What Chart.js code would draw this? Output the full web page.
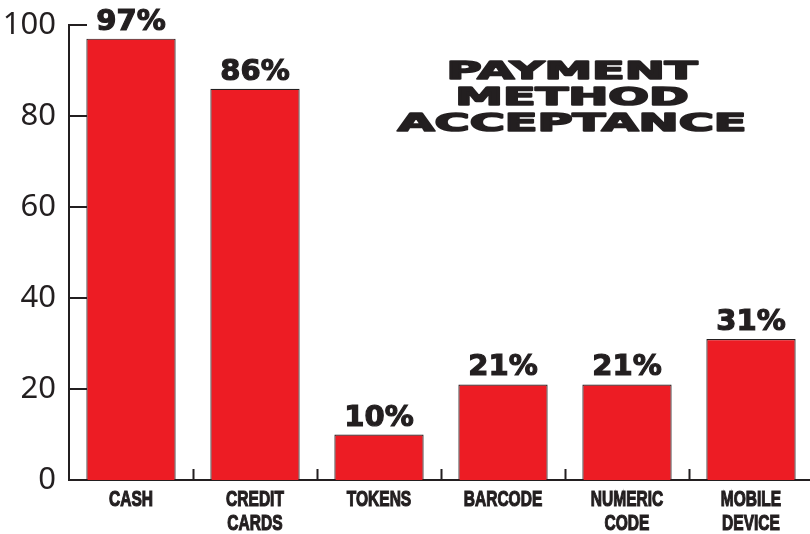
<!DOCTYPE html>
<html>
<head>
<meta charset="utf-8">
<script src="https://cdn.jsdelivr.net/npm/chart.js@4"></script>
<style>
  html, body { margin: 0; padding: 0; background: #fff; overflow: hidden; }
  #wrap { width: 813px; height: 534px; }
</style>
</head>
<body>
<div id="wrap"><canvas id="c" width="813" height="534"></canvas></div>
<script>
const categories = [['CASH'], ['CREDIT', 'CARDS'], ['TOKENS'], ['BARCODE'], ['NUMERIC', 'CODE'], ['MOBILE', 'DEVICE']];
const acceptance = [97, 86, 10, 21, 21, 31];
const yTicks = [0, 20, 40, 60, 80, 100];
const titleLines = ['PAYMENT', 'METHOD', 'ACCEPTANCE'];

const INK = '#231f20';
const RED = '#ed1c24';

// Inward tick marks on both axes
const innerTicks = {
  id: 'innerTicks',
  beforeDatasetsDraw(chart) {
    const { ctx, scales: { x, y } } = chart;
    ctx.save();
    ctx.strokeStyle = INK;
    ctx.lineWidth = 2;
    ctx.beginPath();
    yTicks.forEach(v => {
      const py = Math.round(y.getPixelForValue(v));
      ctx.moveTo(x.left, py);
      ctx.lineTo(x.left + 18, py);
    });
    for (let i = 1; i < categories.length; i++) {
      const px = Math.round((x.getPixelForValue(i - 1) + x.getPixelForValue(i)) / 2) + 0.5;
      ctx.moveTo(px, y.bottom);
      ctx.lineTo(px, y.bottom - 11);
    }
    ctx.stroke();
    ctx.restore();
  }
};

// Condensed, heavy category labels under the bars
const categoryLabels = {
  id: 'categoryLabels',
  afterDraw(chart) {
    const { ctx, scales: { x, y } } = chart;
    ctx.save();
    ctx.fillStyle = INK;
    ctx.strokeStyle = INK;
    ctx.lineWidth = 1.1;
    ctx.font = 'bold 21px "Liberation Sans"';
    ctx.textAlign = 'center';
    ctx.textBaseline = 'alphabetic';
    categories.forEach((lines, i) => {
      const cx = x.getPixelForValue(i);
      lines.forEach((line, j) => {
        ctx.save();
        ctx.translate(cx, y.bottom + 26 + j * 23.5);
        ctx.scale(0.74, 1.04);
        ctx.fillText(line, 0, 0);
        ctx.strokeText(line, 0, 0);
        ctx.restore();
      });
    });
    ctx.restore();
  }
};

// Percent labels above each bar
const valueLabels = {
  id: 'valueLabels',
  afterDatasetsDraw(chart) {
    const { ctx } = chart;
    const meta = chart.getDatasetMeta(0);
    ctx.save();
    ctx.fillStyle = INK;
    ctx.strokeStyle = INK;
    ctx.lineWidth = 1.2;
    ctx.font = 'bold 29px "DejaVu Sans"';
    ctx.textAlign = 'center';
    ctx.textBaseline = 'alphabetic';
    meta.data.forEach((bar, i) => {
      const t = acceptance[i] + '%';
      ctx.fillText(t, bar.x, bar.y - 9);
      ctx.strokeText(t, bar.x, bar.y - 9);
    });
    ctx.restore();
  }
};

// Wide, heavy three-line heading in the upper right
const heading = {
  id: 'heading',
  afterDraw(chart) {
    const { ctx } = chart;
    ctx.save();
    ctx.fillStyle = INK;
    ctx.strokeStyle = INK;
    ctx.lineWidth = 1.6;
    ctx.lineJoin = 'round';
    ctx.font = 'bold 24px "DejaVu Sans"';
    ctx.textAlign = 'center';
    ctx.textBaseline = 'alphabetic';
    const widest = ctx.measureText(titleLines[2]).width;
    const stretch = 349 / widest;
    const cx = 572;
    titleLines.forEach((line, i) => {
      ctx.save();
      ctx.translate(cx, 79 + i * 26);
      ctx.scale(stretch, 1);
      ctx.fillText(line, 0, 0);
      ctx.strokeText(line, 0, 0);
      ctx.restore();
    });
    ctx.restore();
  }
};

new Chart(document.getElementById('c'), {
  type: 'bar',
  data: {
    labels: categories,
    datasets: [{
      data: acceptance,
      backgroundColor: RED,
      borderColor: INK,
      borderWidth: 1.2,
      barPercentage: 0.72,
      categoryPercentage: 1.0
    }]
  },
  options: {
    responsive: false,
    animation: false,
    layout: { padding: { top: 25, right: 0, left: 0, bottom: 0 } },
    plugins: { legend: { display: false }, tooltip: { enabled: false } },
    scales: {
      x: {
        grid: { display: false, drawTicks: false },
        border: { display: true, color: INK, width: 2 },
        ticks: { display: false },
        afterFit(s) { s.height = 54; s.paddingLeft = 0; s.paddingRight = 0; }
      },
      y: {
        min: 0,
        max: 100,
        afterBuildTicks(s) { s.ticks = yTicks.map(v => ({ value: v })); },
        grid: { display: false, drawTicks: false },
        border: { display: true, color: INK, width: 2 },
        ticks: {
          color: INK,
          font: { family: '"Noto Sans"', size: 31 },
          padding: 13
        },
        afterFit(s) { s.width = 69; s.paddingTop = 0; s.paddingBottom = 0; }
      }
    }
  },
  plugins: [innerTicks, valueLabels, categoryLabels, heading]
});
</script>
</body>
</html>
